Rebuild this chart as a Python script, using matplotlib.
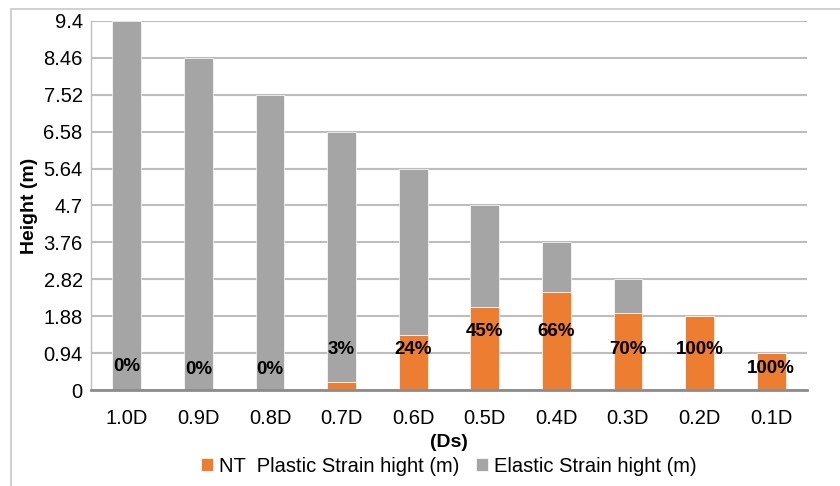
import numpy as np
import matplotlib.pyplot as plt
from matplotlib.patches import Rectangle

plt.rcParams['font.family'] = ['Liberation Sans', 'DejaVu Sans']

# strain heights per depth ratio
categories = ['1.0D', '0.9D', '0.8D', '0.7D', '0.6D', '0.5D', '0.4D', '0.3D', '0.2D', '0.1D']
total_height = [9.4, 8.46, 7.52, 6.58, 5.64, 4.7, 3.76, 2.82, 1.88, 0.94]
plastic = [0, 0, 0, 0.2, 1.4, 2.12, 2.5, 1.97, 1.88, 0.94]
pct_labels = ['0%', '0%', '0%', '3%', '24%', '45%', '66%', '70%', '100%', '100%']
label_y = [0.59, 0.53, 0.53, 1.02, 1.02, 1.49, 1.49, 1.02, 1.02, 0.56]
yticks = [0, 0.94, 1.88, 2.82, 3.76, 4.7, 5.64, 6.58, 7.52, 8.46, 9.4]

elastic = np.array(total_height) - np.array(plastic)
x = np.arange(len(categories))

fig = plt.figure(figsize=(8.4, 4.86), dpi=100)
ax = fig.add_axes([91/840, 1 - 390/486, (807 - 91)/840, (390 - 21)/486])

# outer chart frame
fig.patches.append(Rectangle((11/840, -0.1), 1.2, 1 - 9/486 + 0.1, transform=fig.transFigure,
                             fill=False, edgecolor='#c8c8c8', linewidth=1.2))

ax.bar(x, plastic, width=0.4, color='#ED7D31', edgecolor='white', linewidth=0.5,
       label='NT  Plastic Strain hight (m)', zorder=3)
ax.bar(x, elastic, width=0.4, bottom=plastic, color='#A5A5A5', edgecolor='white', linewidth=0.5,
       label='Elastic Strain hight (m)', zorder=3)

for xi, ly, txt in zip(x, label_y, pct_labels):
    ax.text(xi, ly, txt, ha='center', va='center', fontsize=13.5, fontweight='bold', zorder=4)

ax.set_xlim(-0.5, len(categories) - 0.5)
ax.set_ylim(0, 9.4)
ax.set_yticks(yticks)
ax.set_yticklabels([f'{v:g}' for v in yticks])
ax.set_xticks(x)
ax.set_xticklabels(categories)
ax.tick_params(axis='both', length=0, labelsize=14.5)
ax.tick_params(axis='x', pad=14)
ax.tick_params(axis='y', pad=6)
ax.grid(axis='y', color='#bdbdbd', linewidth=1.5, zorder=0)

for s in ['top', 'right']:
    ax.spines[s].set_visible(False)
ax.spines['left'].set_color('#bdbdbd')
ax.spines['left'].set_linewidth(1.0)
ax.spines['bottom'].set_color('#8c8c8c')
ax.spines['bottom'].set_linewidth(2.0)
ax.spines['bottom'].set_zorder(5)

ax.set_ylabel('Height (m)', fontsize=14, fontweight='bold', labelpad=4)
ax.set_xlabel('(Ds)', fontsize=14, fontweight='bold', labelpad=4)

fig.legend(loc='center', bbox_to_anchor=(449/840, 1 - 466/486), ncol=2, frameon=False,
           fontsize=14.5, handlelength=0.6, handleheight=0.6, handletextpad=0.3,
           columnspacing=0.8)

fig.savefig('out.png', dpi=100)
